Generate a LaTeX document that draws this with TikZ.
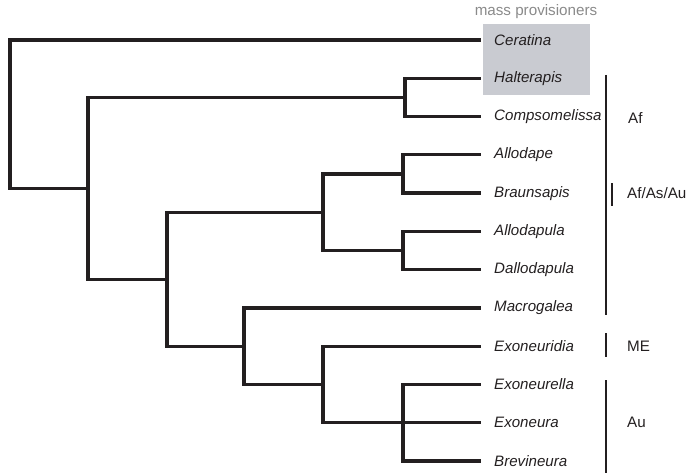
\documentclass[tikz,border=0pt]{standalone}
\usepackage{fontspec}
\setmainfont{Liberation Sans}
\begin{document}
\begin{tikzpicture}[x=1pt,y=-1pt,
  branch/.style={line width=3.3pt,color=ink,line cap=rect,line join=miter},
  taxon/.style={anchor=west,inner sep=0pt,font=\fontsize{15.1}{18}\selectfont\itshape,text=ink},
  region/.style={anchor=west,inner sep=0pt,font=\fontsize{15.2}{18}\selectfont,text=ink},
  bar/.style={line width=1.3pt,color=ink}]
\definecolor{ink}{HTML}{231F20}
\definecolor{boxgray}{HTML}{C9CBD1}
\definecolor{labgray}{HTML}{8A8A8A}
\useasboundingbox (0,0) rectangle (687,473);
% highlight box
\fill[boxgray] (483,24) rectangle (590,95);
\node[font=\fontsize{15.2}{18}\selectfont,text=labgray,inner sep=0pt] (mp) at (536,12) {mass provisioners};
% leaf ends
\coordinate (eCer) at (479,40);
\coordinate (eHal) at (479,78.3);
\coordinate (eCom) at (479,116.5);
\coordinate (eAll) at (479,154.8);
\coordinate (eBra) at (479,193.1);
\coordinate (eAlp) at (479,231.4);
\coordinate (eDal) at (479,269.6);
\coordinate (eMac) at (479,307.9);
\coordinate (eExd) at (479,346.2);
\coordinate (eExl) at (479,384.5);
\coordinate (eExa) at (479,422.7);
\coordinate (eBrv) at (479,461);
% leaf labels
\node[taxon] (tCer) at (494,40) {Ceratina};
\node[taxon] (tHal) at (494,78.3) {Halterapis};
\node[taxon] (tCom) at (494,116.5) {Compsomelissa};
\node[taxon] (tAll) at (494,154.8) {Allodape};
\node[taxon] (tBra) at (494,193.1) {Braunsapis};
\node[taxon] (tAlp) at (494,231.4) {Allodapula};
\node[taxon] (tDal) at (494,269.6) {Dallodapula};
\node[taxon] (tMac) at (494,307.9) {Macrogalea};
\node[taxon] (tExd) at (494,346.2) {Exoneuridia};
\node[taxon] (tExl) at (494,384.5) {Exoneurella};
\node[taxon] (tExa) at (494,422.7) {Exoneura};
\node[taxon] (tBrv) at (494,461) {Brevineura};
% internal nodes
\coordinate (nA) at (405,97.4);
\coordinate (nB1) at (403,173.95);
\coordinate (nB2) at (403,250.5);
\coordinate (nC) at (323,212.2);
\coordinate (nH) at (403,422.7);
\coordinate (nG) at (323,384.5);
\coordinate (nF) at (244,346.2);
\coordinate (nE) at (167,279.2);
\coordinate (nD) at (88,188.3);
\coordinate (nR) at (10,114.2);
% branches
\draw[branch] (eHal) -| (nA) |- (eCom);
\draw[branch] (eAll) -| (nB1) |- (eBra);
\draw[branch] (eAlp) -| (nB2) |- (eDal);
\draw[branch] (nB1) -| (nC) |- (nB2);
\draw[branch] (eExl) -| (nH) |- (eBrv);
\draw[branch] (nH) -- (eExa);
\draw[branch] (eExd) -| (nG) |- (nH);
\draw[branch] (eMac) -| (nF) |- (nG);
\draw[branch] (nC) -| (nE) |- (nF);
\draw[branch] (nA) -| (nD) |- (nE);
\draw[branch] (eCer) -| (nR) |- (nD);
% region bars
\coordinate (afT) at (606,75); \coordinate (afB) at (606,315);
\coordinate (aaT) at (612,183); \coordinate (aaB) at (612,206);
\coordinate (meT) at (606,333); \coordinate (meB) at (606,357);
\coordinate (auT) at (606,380); \coordinate (auB) at (606,473);
\draw[bar] (afT) -- (afB);
\draw[bar] (aaT) -- (aaB);
\draw[bar] (meT) -- (meB);
\draw[bar] (auT) -- (auB);
\node[region] (rAf) at (628,118) {Af};
\node[region] (rAA) at (627,193) {Af/As/Au};
\node[region] (rME) at (627,346) {ME};
\node[region] (rAu) at (627,422) {Au};
\end{tikzpicture}
\end{document}
